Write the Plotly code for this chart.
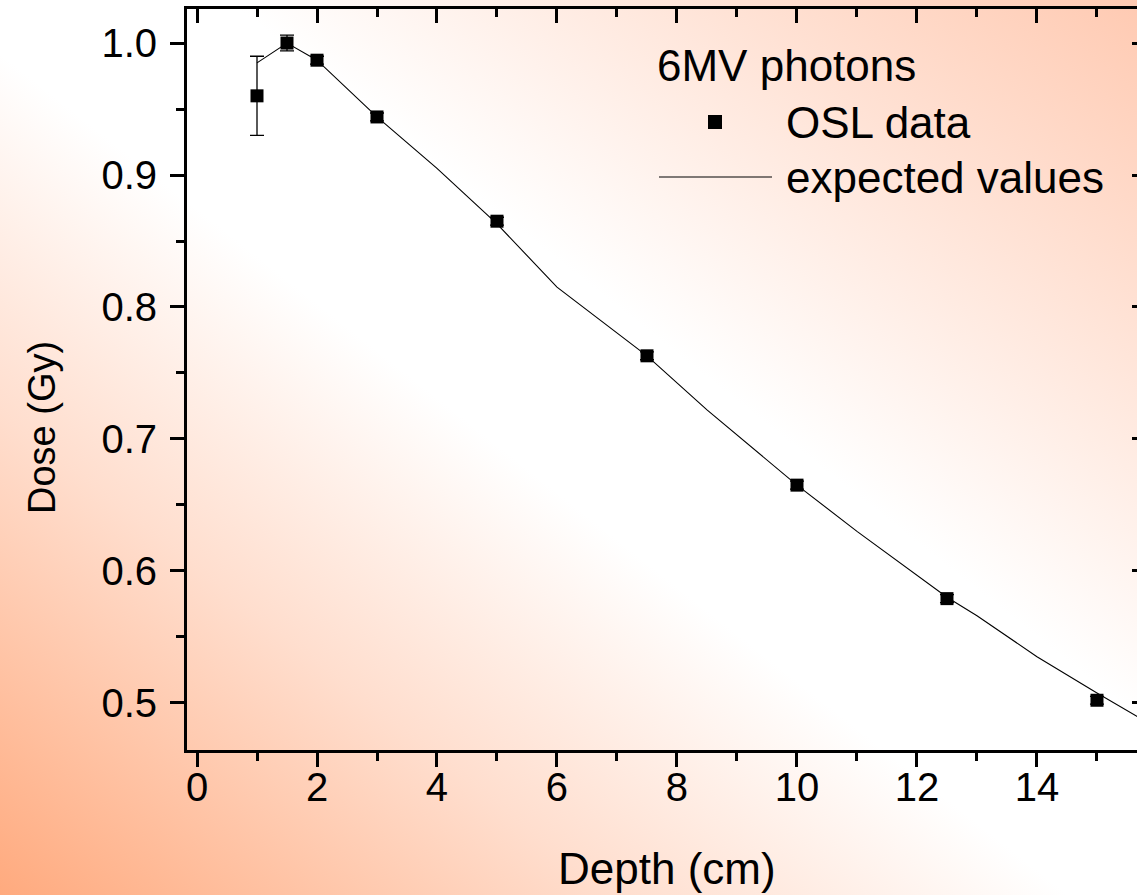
import base64
import plotly.graph_objects as go

# ---- data ----
osl_depth = [1, 1.5, 2, 3, 5, 7.5, 10, 12.5, 15]
osl_dose = [0.960, 1.000, 0.987, 0.944, 0.865, 0.763, 0.665, 0.579, 0.502]
osl_err = [0.030, 0.006, 0.003, 0.003, 0.003, 0.003, 0.003, 0.003, 0.003]

exp_depth = [1, 1.5, 2, 3, 4, 5, 6, 7.5, 8.5, 10, 11, 12, 12.5, 13, 14, 15, 16]
exp_dose = [0.985, 1.000, 0.987, 0.944, 0.905, 0.863, 0.815, 0.763, 0.722,
            0.665, 0.630, 0.597, 0.580, 0.566, 0.535, 0.5075, 0.481]

x_ticks = [0, 2, 4, 6, 8, 10, 12, 14]
y_ticks = [0.5, 0.6, 0.7, 0.8, 0.9, 1.0]

legend_title = "6MV photons"
osl_name = "OSL data"
exp_name = "expected values"

# ---- layout geometry ----
W, H = 1137, 895
ML, MR, MT, MB = 187, 0, 9, 145
PW, PH = W - ML - MR, H - MT - MB
FONT = "Liberation Sans, Arial, sans-serif"


def px(xpix):
    return (xpix - ML) / PW


def py(ypix):
    return (H - MB - ypix) / PH


# background gradient as svg image
svg = (
    '<svg xmlns="http://www.w3.org/2000/svg" width="1137" height="895" preserveAspectRatio="none">'
    '<defs><linearGradient id="g" x1="0" y1="1" x2="1" y2="0">'
    '<stop offset="0" stop-color="rgb(255,170,126)"/>'
    '<stop offset="0.27" stop-color="rgb(255,222,206)"/>'
    '<stop offset="0.47" stop-color="rgb(255,255,255)"/>'
    '<stop offset="0.6" stop-color="rgb(255,255,255)"/>'
    '<stop offset="1" stop-color="rgb(255,202,178)"/>'
    '</linearGradient></defs>'
    '<rect x="0" y="0" width="1137" height="895" fill="url(#g)"/></svg>'
)
svg_uri = "data:image/svg+xml;base64," + base64.b64encode(svg.encode()).decode()

fig = go.Figure()

fig.add_trace(go.Scatter(
    x=exp_depth, y=exp_dose, mode="lines", name=exp_name,
    line=dict(color="black", width=1.1), showlegend=False,
))
fig.add_trace(go.Scatter(
    x=osl_depth, y=osl_dose, mode="markers", name=osl_name,
    marker=dict(symbol="square", size=13, color="black"),
    error_y=dict(type="data", array=osl_err, visible=True, color="black",
                 thickness=1.3, width=7),
    showlegend=False,
))
# dummy trace to activate mirror axes
fig.add_trace(go.Scatter(x=[None], y=[None], xaxis="x2", yaxis="y2",
                         showlegend=False, hoverinfo="skip"))

xr = [-1 / 6, 15.667]
yr = [0.4643, 1.0258]

axis_common = dict(showgrid=False, zeroline=False, color="black",
                   linecolor="black", tickcolor="black")

fig.update_layout(
    width=W, height=H,
    margin=dict(l=ML, r=MR, t=MT, b=MB, pad=0),
    paper_bgcolor="white",
    plot_bgcolor="rgba(0,0,0,0)",
    font=dict(family=FONT, color="black"),
    showlegend=False,
    xaxis=dict(
        range=xr, tickvals=x_ticks, ticks="outside", ticklen=14, tickwidth=2.5,
        showline=True, linewidth=3, tickfont=dict(size=40, family=FONT),
        ticklabelstandoff=-14,
        minor=dict(dtick=1, tick0=0, ticks="outside", ticklen=8, tickwidth=2.5,
                   tickcolor="black"),
        **axis_common,
    ),
    yaxis=dict(
        range=yr, tickvals=y_ticks, ticks="outside", ticklen=14, tickwidth=2.5,
        tickformat=".1f", showline=True, linewidth=3,
        tickfont=dict(size=40, family=FONT), ticklabelstandoff=5,
        minor=dict(dtick=0.05, tick0=0, ticks="outside", ticklen=8, tickwidth=2.5,
                   tickcolor="black"),
        **axis_common,
    ),
    xaxis2=dict(
        overlaying="x", side="top", range=xr, tickvals=x_ticks, ticks="inside",
        ticklen=14, tickwidth=2.5, showline=True, linewidth=3,
        showticklabels=False,
        minor=dict(dtick=1, tick0=0, ticks="inside", ticklen=8, tickwidth=2.5,
                   tickcolor="black"),
        **axis_common,
    ),
    yaxis2=dict(
        overlaying="y", side="right", range=yr, tickvals=y_ticks, ticks="inside",
        ticklen=5, tickwidth=2.5, showline=False, showticklabels=False,
        **axis_common,
    ),
)

fig.add_layout_image(dict(
    source=svg_uri, xref="paper", yref="paper",
    x=-ML / PW, y=1 + MT / PH, sizex=W / PW, sizey=H / PH,
    xanchor="left", yanchor="top", sizing="stretch", layer="below",
))

# axis titles
fig.add_annotation(text="Depth (cm)", xref="paper", yref="paper",
                   x=px(667), y=py(868), showarrow=False,
                   font=dict(size=44, family=FONT), xanchor="center", yanchor="middle")
fig.add_annotation(text="Dose (Gy)", xref="paper", yref="paper",
                   x=px(42), y=py(428), showarrow=False, textangle=-90,
                   font=dict(size=38, family=FONT), xanchor="center", yanchor="middle")

# legend (drawn as annotations + key glyphs)
fig.add_annotation(text=legend_title, xref="paper", yref="paper",
                   x=px(655), y=py(66), showarrow=False,
                   font=dict(size=44, family=FONT), xanchor="left", yanchor="middle")
fig.add_annotation(text=osl_name, xref="paper", yref="paper",
                   x=px(784), y=py(122), showarrow=False,
                   font=dict(size=44, family=FONT), xanchor="left", yanchor="middle")
fig.add_annotation(text=exp_name, xref="paper", yref="paper",
                   x=px(784), y=py(177), showarrow=False,
                   font=dict(size=44, family=FONT), xanchor="left", yanchor="middle")
fig.add_shape(type="rect", xref="paper", yref="paper",
              x0=px(708), x1=px(722), y0=py(129), y1=py(115),
              fillcolor="black", line=dict(width=0))
fig.add_shape(type="line", xref="paper", yref="paper",
              x0=px(659), x1=px(772), y0=py(177), y1=py(177),
              line=dict(color="black", width=1.1))

fig.write_html("out.html")
